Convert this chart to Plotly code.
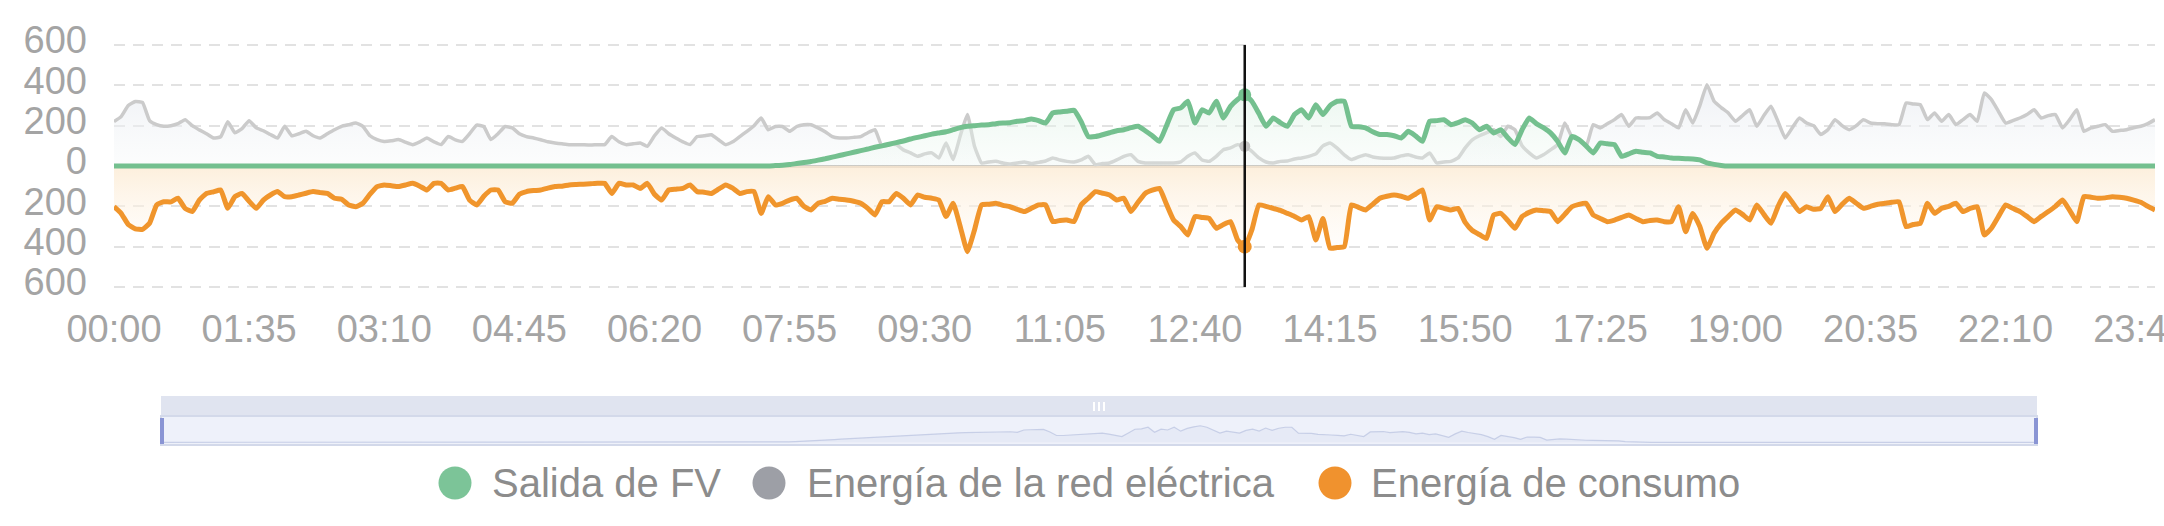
import plotly.graph_objects as go

# ---------------- data ----------------
times = [f"{h:02d}:{m:02d}" for h in range(24) for m in range(0, 60, 5)]
tick_labels = ["00:00", "01:35", "03:10", "04:45", "06:20", "07:55", "09:30", "11:05",
               "12:40", "14:15", "15:50", "17:25", "19:00", "20:35", "22:10", "23:45"]
y_ticks = [-600, -400, -200, 0, 200, 400, 600]
y_tick_text = ["600", "400", "200", "0", "200", "400", "600"]

pv_output = (
    [0] * 12 * 7 +
    [0, 0, 0, 0, 0, 0, 0, 0, 0, 2, 4, 7] +
    [12, 17, 22, 29, 36, 44, 52, 60, 68, 76, 84, 93] +
    [100, 108, 116, 124, 134, 142, 150, 158, 164, 170, 180, 190] +
    [197, 200, 203, 205, 210, 213, 215, 222, 225, 233, 225, 213] +
    [263, 268, 272, 276, 220, 146, 146, 155, 165, 175, 180, 190] +
    [197, 175, 150, 122, 200, 279, 288, 321, 213, 279, 263, 321] +
    [238, 296, 330, 353, 321, 260, 197, 238, 215, 197, 255, 279] +
    [238, 304, 255, 300, 321, 321, 197, 195, 189, 170, 156, 156] +
    [150, 139, 172, 150, 122, 222, 225, 230, 205, 215, 230, 213] +
    [180, 197, 164, 180, 140, 106, 180, 238, 210, 190, 164, 122] +
    [65, 146, 131, 100, 65, 114, 110, 106, 48, 60, 73, 68] +
    [65, 48, 45, 40, 38, 36, 35, 30, 15, 8, 3, 0] +
    [0] * 12 * 5
)

grid_energy = (
    [220, 245, 300, 320, 315, 225, 205, 197, 200, 210, 230, 200] +
    [179, 160, 139, 145, 220, 165, 185, 225, 189, 175, 156, 139] +
    [197, 150, 160, 172, 150, 139, 160, 180, 197, 205, 213, 197] +
    [150, 131, 122, 125, 131, 118, 106, 120, 139, 120, 106, 146] +
    [130, 122, 160, 203, 196, 131, 160, 196, 189, 160, 146, 139] +
    [130, 120, 114, 110, 106, 106, 105, 104, 106, 106, 146, 120] +
    [106, 110, 114, 98, 150, 189, 160, 139, 120, 106, 146, 150] +
    [155, 130, 106, 120, 146, 172, 200, 238, 180, 196, 196, 172] +
    [196, 205, 205, 189, 170, 146, 139, 139, 142, 146, 165, 180] +
    [98, 106, 106, 80, 65, 48, 60, 65, 40, 114, 32, 150] +
    [255, 98, 15, 20, 23, 15, 10, 15, 20, 12, 18, 25] +
    [40, 30, 23, 20, 30, 48, 7, 12, 15, 30, 48, 56] +
    [23, 15, 15, 15, 15, 15, 20, 48, 65, 30, 23, 48] +
    [81, 90, 106, 98, 73, 40, 20, 15, 23, 25, 35, 40] +
    [48, 60, 100, 114, 89, 55, 32, 45, 56, 45, 40, 38] +
    [40, 50, 56, 45, 40, 65, 15, 20, 23, 40, 90, 130] +
    [150, 165, 180, 146, 197, 180, 100, 65, 40, 56, 80, 106] +
    [213, 146, 131, 98, 205, 189, 210, 230, 255, 197, 238, 238] +
    [240, 263, 230, 210, 189, 279, 213, 300, 403, 321, 290, 263] +
    [222, 250, 279, 197, 250, 296, 220, 139, 190, 238, 213, 200] +
    [156, 180, 230, 200, 180, 200, 230, 213, 210, 210, 205, 205] +
    [312, 308, 304, 230, 263, 222, 255, 205, 230, 255, 222, 362] +
    [329, 270, 213, 225, 238, 255, 279, 238, 250, 255, 189, 230] +
    [279, 172, 189, 197, 205, 172, 176, 180, 190, 197, 210, 230]
)

consumption = (
    [-202, -235, -290, -312, -314, -284, -193, -177, -178, -160, -210, -226] +
    [-169, -136, -128, -119, -210, -152, -136, -175, -210, -169, -144, -127] +
    [-152, -152, -144, -135, -127, -132, -136, -160, -165, -193, -202, -185] +
    [-140, -102, -94, -98, -102, -94, -86, -100, -119, -86, -86, -119] +
    [-110, -102, -169, -193, -150, -119, -119, -177, -185, -140, -127, -122] +
    [-119, -110, -102, -100, -94, -92, -90, -88, -86, -86, -136, -86] +
    [-94, -94, -111, -86, -140, -169, -119, -115, -111, -94, -127, -130] +
    [-136, -115, -94, -110, -136, -127, -127, -235, -152, -193, -185, -169] +
    [-160, -200, -218, -185, -175, -160, -165, -169, -175, -185, -210, -243] +
    [-177, -177, -136, -160, -193, -144, -155, -160, -169, -251, -185, -301] +
    [-425, -317, -193, -190, -185, -195, -202, -215, -226, -210, -193, -193] +
    [-276, -270, -268, -276, -193, -160, -127, -135, -144, -169, -160, -226] +
    [-180, -136, -120, -111, -190, -268, -300, -342, -251, -255, -260, -309] +
    [-290, -276, -367, -400, -317, -193, -200, -210, -220, -235, -250, -268] +
    [-251, -367, -260, -408, -404, -400, -193, -205, -218, -190, -160, -150] +
    [-144, -150, -160, -140, -119, -268, -202, -210, -218, -210, -280, -320] +
    [-340, -359, -243, -235, -270, -309, -251, -230, -218, -222, -226, -276] +
    [-240, -202, -190, -185, -243, -260, -276, -268, -255, -243, -260, -276] +
    [-270, -268, -276, -276, -202, -326, -235, -300, -408, -334, -284, -250] +
    [-218, -240, -268, -193, -240, -284, -200, -136, -180, -226, -202, -215] +
    [-210, -152, -226, -190, -160, -185, -210, -200, -190, -185, -180, -177] +
    [-301, -290, -284, -185, -235, -210, -200, -185, -226, -210, -202, -342] +
    [-309, -250, -193, -210, -226, -250, -276, -250, -226, -200, -169, -220] +
    [-276, -152, -155, -160, -158, -152, -155, -160, -169, -180, -200, -218]
)

series_names = ["Salida de FV", "Energía de la red eléctrica", "Energía de consumo"]
hover_time = "13:15"

assert len(times) == len(pv_output) == len(grid_energy) == len(consumption) == 288

# ---------------- layout helpers (pixel -> paper) ----------------
W, H = 2164, 526
ML, MR, MT, MB = 114, 9, 38, 10
PW, PH = W - ML - MR, H - MT - MB


def px(xp):
    return (xp - ML) / PW


def py(yp):
    return (H - MB - yp) / PH


GREEN, GRAY, ORANGE = "#74c08f", "#cbcbcb", "#f0952c"
FONT = "Liberation Sans, Arial, sans-serif"
SMOOTH = 0.4
Y_PAD = 15  # small headroom so the 600 gridlines at both ends are drawn
PAD_PX = 3  # = Y_PAD in pixels (242 px per 1200 units)

fig = go.Figure()

fig.add_trace(go.Scatter(
    x=times, y=consumption, name=series_names[2], mode="lines",
    line=dict(color=ORANGE, width=5, shape="spline", smoothing=SMOOTH), fill="tozeroy",
    fillgradient=dict(type="vertical", start=-420, stop=0,
                      colorscale=[[0, "rgba(255,248,238,0.2)"], [1, "rgba(252,236,214,0.85)"]]),
    showlegend=False, hoverinfo="skip"))
fig.add_trace(go.Scatter(
    x=times, y=grid_energy, name=series_names[1], mode="lines",
    line=dict(color=GRAY, width=3.5, shape="spline", smoothing=SMOOTH), fill="tozeroy",
    fillgradient=dict(type="vertical", start=0, stop=400,
                      colorscale=[[0, "rgba(244,247,248,0.3)"], [1, "rgba(232,235,241,0.7)"]]),
    showlegend=False, hoverinfo="skip"))
fig.add_trace(go.Scatter(
    x=times, y=pv_output, name=series_names[0], mode="lines",
    line=dict(color=GREEN, width=5, shape="spline", smoothing=SMOOTH), fill="tozeroy",
    fillgradient=dict(type="vertical", start=0, stop=360,
                      colorscale=[[0, "rgba(238,248,242,0.25)"], [1, "rgba(222,241,229,0.6)"]]),
    showlegend=False, hoverinfo="skip"))

# highlighted points at the hovered time
hi = times.index(hover_time)
for vals, col, sz in [(grid_energy, "#c4c4c4", 11), (pv_output, GREEN, 13), (consumption, ORANGE, 14)]:
    fig.add_trace(go.Scatter(x=[times[hi]], y=[vals[hi]], mode="markers",
                             marker=dict(color=col, size=sz), showlegend=False, hoverinfo="skip"))

# data shadow in the slider
fig.add_trace(go.Scatter(
    x=times, y=pv_output, mode="lines", xaxis="x2", yaxis="y2",
    line=dict(color="rgba(190,199,226,0.8)", width=1.2), fill="tozeroy",
    fillcolor="rgba(220,226,242,0.45)", showlegend=False, hoverinfo="skip"))

fig.update_layout(
    width=W, height=H,
    margin=dict(l=ML, r=MR, t=MT, b=MB),
    paper_bgcolor="white", plot_bgcolor="white",
    font=dict(family=FONT, color="#9a9a9a", size=38),
    showlegend=False,
    xaxis=dict(type="category", range=[0, len(times) - 1], showgrid=False, zeroline=False,
               showline=False, tickmode="array", tickvals=tick_labels, ticktext=tick_labels,
               ticks="", ticklabelstandoff=16 - PAD_PX, automargin=False,
               tickfont=dict(size=38, color="#a4a4a4"), domain=[0, 1], fixedrange=True),
    yaxis=dict(range=[-600 - Y_PAD, 600 + Y_PAD], tickmode="array", tickvals=y_ticks,
               ticktext=y_tick_text,
               showgrid=True, gridcolor="#e2e2e2", gridwidth=2, griddash="11px,8px",
               zeroline=True, zerolinecolor="#aaa29a", zerolinewidth=2.5,
               showline=False, ticks="", ticklabelstandoff=26, ticklabelshift=-5,
               automargin=False, tickfont=dict(size=38, color="#a4a4a4"),
               domain=[py(287 + PAD_PX), py(45 - PAD_PX)], fixedrange=True),
    xaxis2=dict(type="category", range=[0, len(times) - 1], domain=[px(161), px(2037)],
                anchor="y2", visible=False, fixedrange=True),
    yaxis2=dict(range=[-35, 560], domain=[py(444), py(416)], anchor="x2", visible=False,
                fixedrange=True),
)

shapes = []
# tooltip axis pointer
shapes.append(dict(type="line", xref="x", yref="y", x0=hover_time, x1=hover_time,
                   y0=-600, y1=600, line=dict(color="#111111", width=2.5), layer="above"))
# slider: top move bar
shapes.append(dict(type="rect", xref="paper", yref="paper", x0=px(161), x1=px(2037),
                   y0=py(416), y1=py(396), fillcolor="#e0e4f0", line=dict(width=0), layer="below"))
# slider: data area
shapes.append(dict(type="rect", xref="paper", yref="paper", x0=px(161), x1=px(2037),
                   y0=py(445), y1=py(416), fillcolor="#eef1fa",
                   line=dict(color="#d3d9ea", width=2), layer="below"))
# slider handles
for xh in (162, 2036):
    shapes.append(dict(type="rect", xref="paper", yref="paper", x0=px(xh - 2), x1=px(xh + 2),
                       y0=py(444), y1=py(418), fillcolor="#8a95d4", line=dict(width=0)))
# grip on the move bar
for xg in (1094, 1099, 1104):
    shapes.append(dict(type="line", xref="paper", yref="paper", x0=px(xg), x1=px(xg),
                       y0=py(411), y1=py(402), line=dict(color="white", width=2)))

# legend (drawn manually to get large circular symbols)
legend_items = [(455, 490, "#7cc498"), (769, 805, "#9d9fa6"), (1335, 1369, "#f0922e")]
annotations = []
r = 16.5
for (cx, tx, col), name in zip(legend_items, series_names):
    shapes.append(dict(type="circle", xref="paper", yref="paper",
                       x0=px(cx - r), x1=px(cx + r), y0=py(483 + r), y1=py(483 - r),
                       fillcolor=col, line=dict(width=0)))
    annotations.append(dict(xref="paper", yref="paper", x=px(tx), y=py(483), text=name,
                            showarrow=False, xanchor="left", yanchor="middle",
                            font=dict(size=40, color="#8c8c8c", family=FONT)))

fig.update_layout(shapes=shapes, annotations=annotations)

fig.write_html("out.html", config={"displayModeBar": False},
               post_script="document.body.style.margin='0';document.body.style.overflow='hidden';")
